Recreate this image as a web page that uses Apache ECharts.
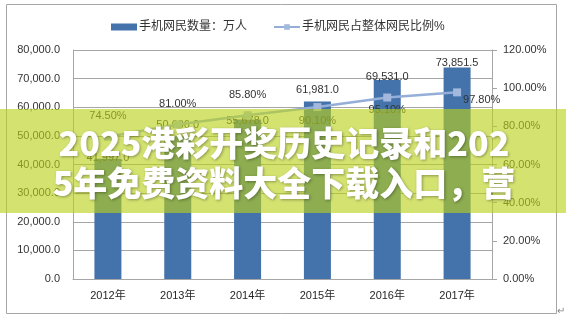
<!DOCTYPE html>
<html>
<head>
<meta charset="utf-8">
<script src="https://cdn.jsdelivr.net/npm/echarts@6/dist/echarts.min.js"></script>
<style>
html,body{margin:0;padding:0;background:#fff;}
#c{width:566px;height:324px;}
</style>
</head>
<body>
<div id="c"></div>
<script>
const categories = ['2012年','2013年','2014年','2015年','2016年','2017年'];
const usersWan = [41997.0, 50006.0, 55678.0, 61981.0, 69531.0, 73851.5];
const sharePct = [74.5, 81.0, 85.8, 90.1, 95.1, 97.8];
const seriesNames = ['手机网民数量：万人', '手机网民占整体网民比例%'];
const bannerLines = ['2025港彩开奖历史记录和202', '5年免费资料大全下载入口，营'];

// label placement styles (not data)
const barLabelDist = [-5, 5, -7, 6, -3, -1];
const pctLabelPos = [
  {position:'top', distance:11},
  {position:'top', distance:11},
  {position:'top', distance:11},
  {position:'bottom', distance:4},
  {position:'bottom', distance:3},
  {position:'right', distance:2, offset:[0,8]}
];

const FONT = "'Liberation Sans','Noto Sans CJK SC',sans-serif";
const fmtNum = v => Number(v).toLocaleString('en-US',{minimumFractionDigits:1,maximumFractionDigits:1});

const chart = echarts.init(document.getElementById('c'), null, {renderer:'canvas'});
const bannerStyle = {fill:'#fff', font:"900 34px 'Noto Sans CJK SC',sans-serif", align:'center', verticalAlign:'middle', textShadowColor:'rgba(0,0,0,0.35)', textShadowBlur:3, textShadowOffsetX:1, textShadowOffsetY:1};
chart.setOption({
  animation:false,
  textStyle:{fontFamily:FONT},
  legend:{
    left:106, top:16, itemGap:26, itemWidth:26, itemHeight:7,
    textStyle:{fontSize:12, color:'#333', fontFamily:FONT, padding:[0,0,0,-3]},
    data:[
      {name:seriesNames[0], icon:'rect'},
      {name:seriesNames[1]}
    ]
  },
  grid:{left:73, right:74, top:50, bottom:45, containLabel:false},
  xAxis:{
    type:'category', data:categories, boundaryGap:true,
    axisLine:{lineStyle:{color:'#A6A6A6'}},
    axisTick:{show:false},
    axisLabel:{fontSize:11, color:'#262626', margin:11, fontFamily:FONT}
  },
  yAxis:[
    {
      type:'value', min:0, max:80000, interval:10000,
      axisLine:{show:true, lineStyle:{color:'#A6A6A6'}},
      axisTick:{show:false},
      splitLine:{lineStyle:{color:'#A6A6A6'}},
      axisLabel:{fontSize:11, color:'#333', margin:13, formatter:v=>fmtNum(v)}
    },
    {
      type:'value', min:0, max:120, interval:20, position:'right',
      axisLine:{show:true, lineStyle:{color:'#A6A6A6'}},
      axisTick:{show:true, inside:false, length:5, lineStyle:{color:'#A6A6A6'}},
      splitLine:{show:false},
      axisLabel:{fontSize:11, color:'#333', margin:11, formatter:v=>v.toFixed(2)+'%'}
    }
  ],
  series:[
    {
      name:seriesNames[0], type:'bar', yAxisIndex:0, barWidth:27,
      itemStyle:{color:'#4472AA'},
      data:usersWan.map((v,i)=>({value:v, label:{distance:barLabelDist[i]}})),
      label:{show:true, position:'top', fontSize:11, color:'#333', formatter:p=>fmtNum(p.value)}
    },
    {
      name:seriesNames[1], type:'line', yAxisIndex:1,
      symbol:'rect', symbolSize:8,
      lineStyle:{color:'#95AED8', width:2.5},
      itemStyle:{color:'#A3B8DD'},
      data:sharePct.map((v,i)=>({value:v, label:Object.assign({}, pctLabelPos[i])})),
      label:{show:true, fontSize:11, color:'#333', formatter:p=>Number(p.value).toFixed(2)+'%'},
      z:3
    }
  ],
  graphic:[
    {type:'rect', silent:true, z:0, shape:{x:6.5,y:4.5,width:550,height:309}, style:{fill:'none', stroke:'#A6A6A6', lineWidth:1}},
    {type:'text', silent:true, left:557, top:306, style:{text:'↵', fontSize:10, fill:'#888', fontFamily:FONT}},
    {type:'rect', silent:true, z:100, shape:{x:0,y:109,width:566,height:104}, style:{fill:'rgba(186,210,25,0.62)'}},
    {type:'text', silent:true, z:101, x:284, y:143, style:Object.assign({text:bannerLines[0]}, bannerStyle)},
    {type:'text', silent:true, z:101, x:284, y:183, style:Object.assign({text:bannerLines[1]}, bannerStyle)}
  ]
});
</script>
</body>
</html>
